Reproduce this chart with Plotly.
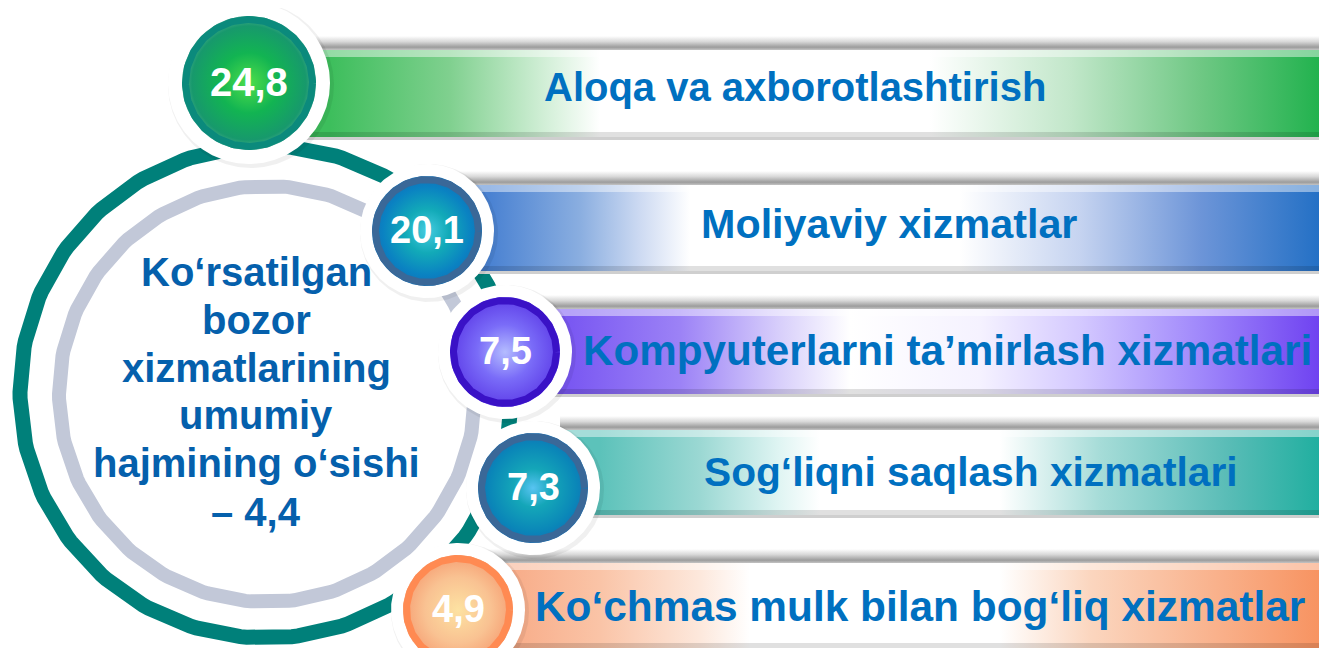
import numpy as np
import plotly.graph_objects as go

# ---------------- data ----------------
values = ["24,8", "20,1", "7,5", "7,3", "4,9"]
categories = [
    "Aloqa va axborotlashtirish",
    "Moliyaviy xizmatlar",
    "Kompyuterlarni ta\u2019mirlash xizmatlari",
    "Sog\u2018liqni saqlash xizmatlari",
    "Ko\u2018chmas mulk bilan bog\u2018liq xizmatlar",
]
center_lines = ["Ko\u2018rsatilgan", "bozor", "xizmatlarining", "umumiy",
                "hajmining o\u2018sishi", "\u2013 4,4"]

# ---------------- layout / style ----------------
W, H = 1327, 656
PAD = 8  # page body margin
TEXT_BLUE = "#0070c0"
FONT = "Liberation Sans, Arial, sans-serif"

bars_y = [(50, 137), (185, 271), (309, 394), (430, 515), (563, 648)]
bars_x0 = [300, 440, 540, 560, 460]
bar_text_x = [795, 889, 947, 971, 920]
bar_text_y = [86.5, 224, 350, 471.5, 606]
bar_text_size = [40, 41.3, 42.2, 40.7, 42.4]
bar_stops = [
    [(330, "#3dbe5c"), (450, "#80d08f"), (545, "#d2efd7"), (600, "#ffffff"), (930, "#ffffff"),
     (1070, "#c2e7ca"), (1200, "#6fc884"), (1327, "#1db14b")],
    [(490, "#4a82d2"), (580, "#8aaee0"), (640, "#cddaf2"), (690, "#ffffff"), (960, "#ffffff"),
     (1080, "#c5d3f0"), (1200, "#6d95d8"), (1327, "#1f6ec4")],
    [(570, "#7a58f2"), (680, "#9c82f6"), (780, "#d8cffb"), (850, "#ffffff"), (980, "#f5f2ff"),
     (1080, "#d4c9ff"), (1200, "#a088fb"), (1327, "#6c3ef0")],
    [(600, "#5cc2ba"), (700, "#9bd8d3"), (780, "#e0f5f3"), (820, "#ffffff"), (1000, "#ffffff"),
     (1100, "#a6dcd8"), (1230, "#58bcb6"), (1327, "#1cae9e")],
    [(480, "#f7a47e"), (600, "#fac4a7"), (700, "#fde8dc"), (750, "#ffffff"), (1000, "#ffffff"),
     (1090, "#fbd6bf"), (1220, "#f9b08a"), (1327, "#f7915e")],
]

circles = [(249, 83, 67, 81), (427, 231, 55, 67), (505, 352, 55, 67),
           (533, 488, 55, 67), (458, 610, 55, 67)]
circle_border = ["#0b8a7c", "#3a6898", "#3a12c6", "#3a6898", "#ff8a52"]
circle_scales = [
    [[0, "#4ede4a"], [0.45, "#12b452"], [0.85, "#17996c"], [1, "#4fae94"]],
    [[0, "#46cce0"], [0.4, "#12aab8"], [0.8, "#0a82c2"], [1, "#1272b8"]],
    [[0, "#b4bcff"], [0.5, "#7a6cf8"], [1, "#5e3ee8"]],
    [[0, "#58c4f2"], [0.35, "#14a6b8"], [0.8, "#0a86b8"], [1, "#1272b8"]],
    [[0, "#fde2a2"], [0.6, "#f9c292"], [1, "#f6a074"]],
]
num_size = [40, 38, 38, 38, 38]
center_x = 256
center_line_y = [272, 320, 368, 415, 463, 512]

fig = go.Figure()


def rect(x0, x1, y0, y1):
    return [x0, x1, x1, x0, x0], [y0, y0, y1, y1, y0]


def circ(cx, cy, r, n=241):
    t = np.linspace(0, 2 * np.pi, n)
    return cx + r * np.cos(t), cy + r * np.sin(t)


def add_fill(x, y, color=None, grad=None):
    kw = dict(x=list(x), y=list(y), mode="lines", fill="toself", line=dict(width=0),
              hoverinfo="skip", showlegend=False)
    if grad is not None:
        kw["fillgradient"] = grad
    else:
        kw["fillcolor"] = color
    fig.add_trace(go.Scatter(**kw))


def add_line(x, y, color, width):
    fig.add_trace(go.Scatter(x=list(x), y=list(y), mode="lines",
                             line=dict(color=color, width=width),
                             hoverinfo="skip", showlegend=False))


# big rings
add_line(*circ(266, 392, 246), "#00807a", 15)
add_line(*circ(267, 394, 208), "#c2c8d8", 14)

# bars
for (y0, y1), x0, stops in zip(bars_y, bars_x0, bar_stops):
    add_fill(*rect(x0, W, y0 - 14, y0), grad=dict(
        type="vertical", start=y0 - 14, stop=y0,
        colorscale=[[0, "#ffffff"], [0.4, "#d8d8d8"], [0.8, "#9c9c9c"], [1, "#c4c4c4"]]))
    s0, s1 = stops[0][0], stops[-1][0]
    cs = [[(sx - s0) / (s1 - s0), c] for sx, c in stops]
    add_fill(*rect(x0, W, y0, y1), grad=dict(type="horizontal", start=s0, stop=s1, colorscale=cs))
    add_fill(*rect(x0, W, y0, y0 + 7), color="rgba(255,255,255,0.45)")
    add_fill(*rect(x0, W, y1 - 5, y1), color="rgba(0,0,0,0.12)")
    add_fill(*rect(x0, W, y1, y1 + 3), color="#cfcfcf")

# small circles
for (cx, cy, r, hr), bc, cs in zip(circles, circle_border, circle_scales):
    add_fill(*circ(cx + 2, cy + 2, hr + 2), color="rgba(0,0,0,0.06)")
    add_fill(*circ(cx, cy, hr), color="#ffffff")
    add_fill(*circ(cx, cy, r), grad=dict(type="radial", colorscale=cs))
    add_line(*circ(cx, cy, r - 3.5), bc, 7)

# texts
for (cx, cy, r, hr), v, fs in zip(circles, values, num_size):
    fig.add_annotation(x=cx, y=cy - 1, text=v, showarrow=False, xanchor="center", yanchor="middle",
                       font=dict(family=FONT, size=fs, color="#ffffff", weight="bold"))
for tx, ty, fs, label in zip(bar_text_x, bar_text_y, bar_text_size, categories):
    fig.add_annotation(x=tx, y=ty, text=label, showarrow=False,
                       xanchor="center", yanchor="middle",
                       font=dict(family=FONT, size=fs, color=TEXT_BLUE, weight="bold"))
for ly, line in zip(center_line_y, center_lines):
    fig.add_annotation(x=center_x, y=ly, text=line, showarrow=False,
                       xanchor="center", yanchor="middle",
                       font=dict(family=FONT, size=40, color="#0560ac", weight="bold"))

# figure sized to fit inside the page's body margin, axes in window pixels
fig.update_layout(
    width=W - 2 * PAD, height=H - 2 * PAD, margin=dict(l=0, r=0, t=0, b=0),
    paper_bgcolor="#ffffff", plot_bgcolor="#ffffff",
    xaxis=dict(range=[PAD, W - PAD], visible=False, fixedrange=True),
    yaxis=dict(range=[H - PAD, PAD], visible=False, fixedrange=True),
)
fig.write_html("out.html", config={"displayModeBar": False})
